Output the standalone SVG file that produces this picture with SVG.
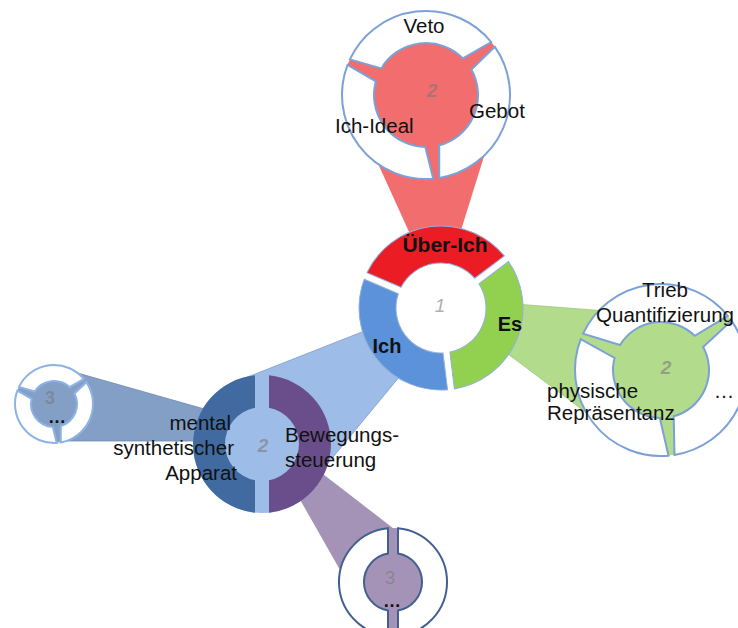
<svg xmlns="http://www.w3.org/2000/svg" width="738" height="628" viewBox="0 0 738 628">
  <style>
    .lbl { font-family: "Liberation Sans", Arial, sans-serif; font-size: 20.5px; fill: #111; }
    .bold { font-family: "Liberation Sans", Arial, sans-serif; font-size: 20px; font-weight: bold; fill: #111; }
    .num { font-family: "Liberation Sans", Arial, sans-serif; font-size: 19px; font-style: italic; font-weight: bold; fill: #7a7a7a; fill-opacity: 0.6; text-anchor: middle; }
    .ring { fill: #fff; stroke: #7ba1d6; stroke-width: 2; }
    .core { stroke: #8fb0dc; stroke-width: 1; }
  </style>
  <defs>
    <!-- ring segments, each spanning one third of the circle, centred on angle 0 -->
    <path id="seg-core" d="M43.96,-69.22 A82,82 0 0 1 43.96,69.22 L25.46,37.11 A45,45 0 0 0 25.46,-37.11 Z"/>
    <path id="seg-top" d="M44.58,-71.20 A84,84 0 0 1 44.58,71.20 L31.83,41.12 A52,52 0 0 0 31.83,-41.12 Z"/>
    <path id="seg-green" d="M45.57,-72.93 A86,86 0 0 1 45.57,72.93 L29.80,37.63 A48,48 0 0 0 29.80,-37.63 Z"/>
    <path id="seg-small" d="M21.21,-32.73 A39,39 0 0 1 21.21,32.73 L14.79,17.62 A23,23 0 0 0 14.79,-17.62 Z"/>
  </defs>

  <!-- beams linking a ring segment to its detail node -->
  <g id="connectors">
    <polygon points="365,135 490,137 453,256 420,256" fill="#f26d6d"/>
    <polygon points="372,328 405,370 310,485 240,380" fill="#9dbde8" stroke="#7f9cc4" stroke-width="0.8"/>
    <polygon points="515,304 620,312 600,423 500,348" fill="#b3db8c" stroke="#9cc878" stroke-width="0.8"/>
    <polygon points="60,368 215,412 215,441 54,441" fill="#849fc5" stroke="#6f8ab3" stroke-width="0.8"/>
    <polygon points="290,482 310,464 411,542 352,591" fill="#a493b6"/>
  </g>

  <!-- level 1: Über-Ich / Es / Ich -->
  <g id="node-1">
    <g transform="translate(441 308)">
      <use href="#seg-core" class="core" fill="#eb1c24" transform="rotate(263)"/>
      <use href="#seg-core" class="core" fill="#92d050" transform="rotate(23)"/>
      <use href="#seg-core" class="core" fill="#5b92da" transform="rotate(143)"/>
    </g>
    <text class="num" x="440" y="312" style="font-weight:normal;fill:#999;fill-opacity:0.8">1</text>
    <text class="bold" x="445" y="252" text-anchor="middle" style="font-size:21px">Über-Ich</text>
    <text class="bold" x="510" y="331" text-anchor="middle">Es</text>
    <text class="bold" x="387" y="353" text-anchor="middle">Ich</text>
  </g>

  <!-- level 2: Über-Ich detail -->
  <g id="node-2-ueber-ich">
    <circle cx="426" cy="95" r="84" fill="#f26d6d"/>
    <g transform="translate(426 95)">
      <use href="#seg-top" class="ring" transform="rotate(23)"/>
      <use href="#seg-top" class="ring" transform="rotate(143)"/>
      <use href="#seg-top" class="ring" transform="rotate(263)"/>
    </g>
    <text class="num" x="432" y="97">2</text>
    <text class="lbl" x="424" y="33" text-anchor="middle">Veto</text>
    <text class="lbl" x="335" y="133">Ich-Ideal</text>
    <text class="lbl" x="469" y="118">Gebot</text>
  </g>

  <!-- level 2: Es detail -->
  <g id="node-2-es">
    <circle cx="661" cy="370" r="86" fill="#b3db8c"/>
    <g transform="translate(661 370)">
      <use href="#seg-green" class="ring" transform="rotate(23)"/>
      <use href="#seg-green" class="ring" transform="rotate(143)"/>
      <use href="#seg-green" class="ring" transform="rotate(263)"/>
    </g>
    <text class="num" x="666" y="374">2</text>
    <text class="lbl" x="665" y="297" text-anchor="middle">Trieb</text>
    <text class="lbl" x="665" y="322" text-anchor="middle">Quantifizierung</text>
    <text class="lbl" x="547" y="398">physische</text>
    <text class="lbl" x="547" y="420">Repräsentanz</text>
    <text class="lbl" x="724" y="398" text-anchor="middle">…</text>
  </g>

  <!-- level 2: Ich detail -->
  <g id="node-2-ich">
    <circle cx="262" cy="444" r="69" fill="#9dbde8"/>
    <g transform="translate(262 444)">
      <path d="M-7,-68.64 A69,69 0 0 0 -7,68.64 L-7,36.33 A37,37 0 0 1 -7,-36.33 Z" fill="#416aa0"/>
      <path d="M7,-68.64 A69,69 0 0 1 7,68.64 L7,36.33 A37,37 0 0 0 7,-36.33 Z" fill="#6a4e8c"/>
    </g>
    <text class="num" x="263" y="452">2</text>
    <text class="lbl" x="231" y="430" text-anchor="end">mental</text>
    <text class="lbl" x="234" y="455" text-anchor="end">synthetischer</text>
    <text class="lbl" x="237" y="480" text-anchor="end">Apparat</text>
    <text class="lbl" x="285" y="442">Bewegungs-</text>
    <text class="lbl" x="285" y="467">steuerung</text>
  </g>

  <!-- level 3: mental synthetischer Apparat -->
  <g id="node-3-apparat">
    <circle cx="54" cy="404" r="39" fill="#849fc5"/>
    <g transform="translate(54 404)">
      <use href="#seg-small" class="ring" style="stroke:#8db3e6" transform="rotate(23)"/>
      <use href="#seg-small" class="ring" style="stroke:#8db3e6" transform="rotate(143)"/>
      <use href="#seg-small" class="ring" style="stroke:#8db3e6" transform="rotate(263)"/>
    </g>
    <text class="num" x="50" y="404" style="font-style:normal;font-size:18px">3</text>
    <text class="bold" x="57" y="423" text-anchor="middle" style="font-size:18px">…</text>
  </g>

  <!-- level 3: Bewegungssteuerung -->
  <g id="node-3-bewegung">
    <circle cx="393" cy="582" r="54" fill="#a493b6"/>
    <g transform="translate(393 582)">
      <path d="M-5,-53.77 A54,54 0 0 0 -5,53.77 L-5,28.57 A29,29 0 0 1 -5,-28.57 Z" fill="#fff" stroke="#41608f" stroke-width="2"/>
      <path d="M5,-53.77 A54,54 0 0 1 5,53.77 L5,28.57 A29,29 0 0 0 5,-28.57 Z" fill="#fff" stroke="#41608f" stroke-width="2"/>
    </g>
    <text class="num" x="390" y="584" style="font-style:normal;font-weight:normal;font-size:19px">3</text>
    <text class="bold" x="392" y="607" text-anchor="middle" style="font-size:18px">…</text>
  </g>
</svg>
